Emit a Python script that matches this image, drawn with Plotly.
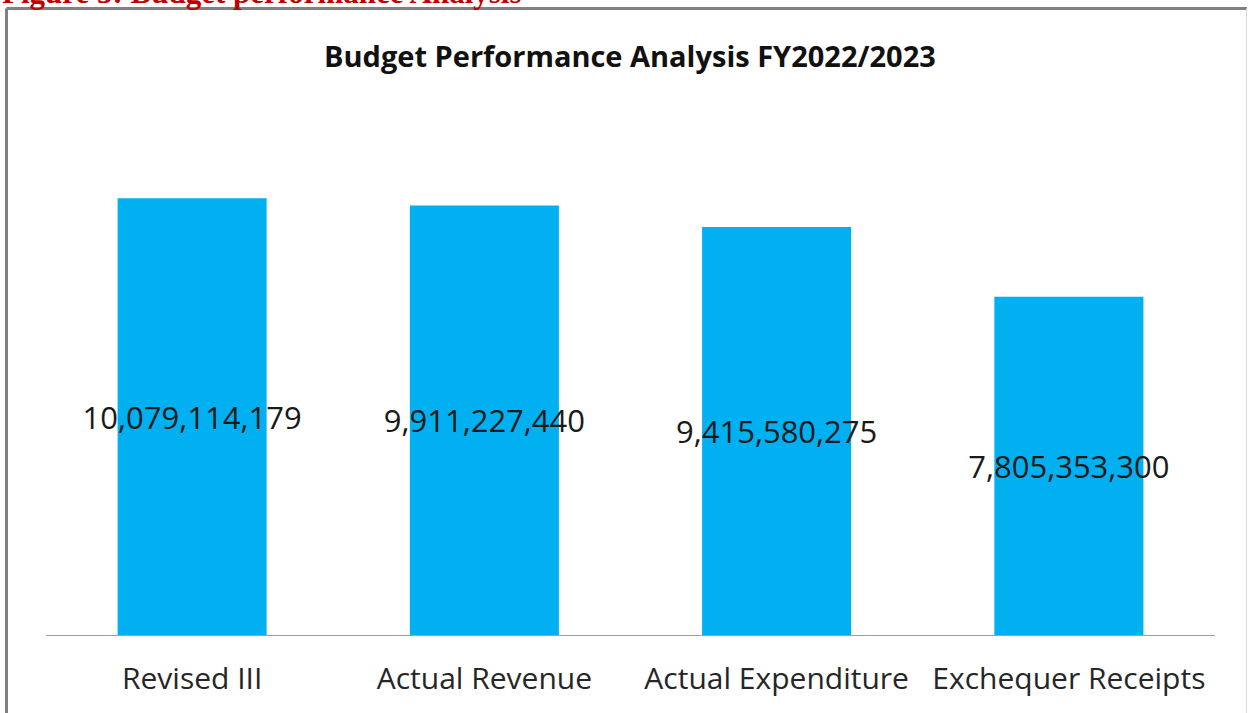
import plotly.graph_objects as go

categories = ["Revised III", "Actual Revenue", "Actual Expenditure", "Exchequer Receipts"]
values = [10079114179, 9911227440, 9415580275, 7805353300]
labels = [f"{v:,}" for v in values]

title_text = "Budget Performance Analysis FY2022/2023"
header_text = "Figure 3: Budget performance Analysis"

W, H = 1248, 713
L, R, T, B = 46, 33, 115, 78

fig = go.Figure()
fig.add_trace(go.Bar(
    x=categories,
    y=values,
    marker=dict(color="#00B0F0", line=dict(width=0)),
    text=labels,
    textposition="inside",
    insidetextanchor="middle",
    textangle=0,
    constraintext="none",
    textfont=dict(family="Open Sans, Liberation Sans, sans-serif", size=31, color="#1a1a1a"),
    hoverinfo="skip",
))

pw = W - L - R
ph = H - T - B

def px_x(p):
    return (p - L) / pw

def px_y(p):
    return (H - B - p) / ph

shapes = [
    # outer gray frame
    dict(type="line", xref="paper", yref="paper",
         x0=px_x(6.5), x1=px_x(1247), y0=px_y(8.5), y1=px_y(8.5),
         line=dict(color="#808080", width=3)),
    dict(type="line", xref="paper", yref="paper",
         x0=px_x(6.5), x1=px_x(6.5), y0=px_y(8.5), y1=px_y(713),
         line=dict(color="#808080", width=3)),
    dict(type="line", xref="paper", yref="paper",
         x0=px_x(1246.5), x1=px_x(1246.5), y0=px_y(8.5), y1=px_y(713),
         line=dict(color="#d9d9d9", width=1)),
]

fig.update_layout(
    width=W, height=H,
    margin=dict(l=L, r=R, t=T, b=B, pad=0),
    paper_bgcolor="white",
    plot_bgcolor="white",
    bargap=0.49,
    showlegend=False,
    shapes=shapes,
    xaxis=dict(
        showline=True, linecolor="#a0a0a0", linewidth=1,
        showgrid=False, zeroline=False, ticks="",
        tickfont=dict(family="Open Sans, Liberation Sans, sans-serif", size=30, color="#262626"),
        ticklabelstandoff=17,
    ),
    yaxis=dict(
        range=[0, 12e9], visible=False, showgrid=False, zeroline=False,
    ),
    annotations=[
        dict(text=f"<b>{title_text}</b>", xref="paper", yref="paper",
             x=px_x(630), y=px_y(56), xanchor="center", yanchor="middle",
             showarrow=False,
             font=dict(family="Open Sans, Liberation Sans, sans-serif", size=29, color="#111111")),
        dict(text=f"<b>{header_text}</b>", xref="paper", yref="paper",
             x=px_x(0), y=px_y(-7), xanchor="left", yanchor="middle",
             showarrow=False,
             font=dict(family="Liberation Serif, serif", size=31, color="#C00000")),
    ],
)

fig.write_html("out.html")
